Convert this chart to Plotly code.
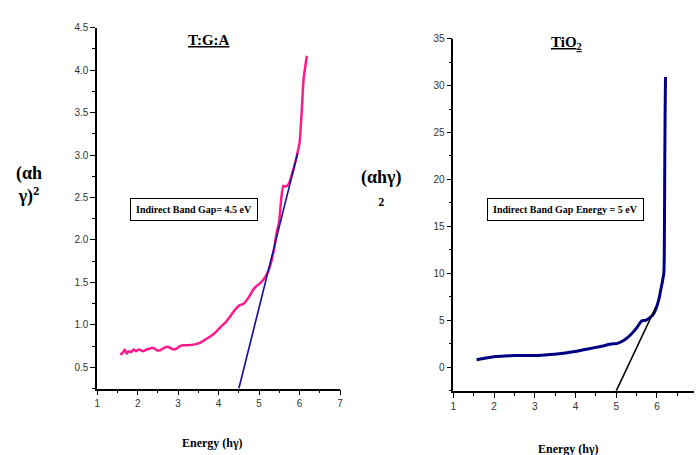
import plotly.graph_objects as go

# T:G:A absorption curve, (alpha h nu)^2 vs photon energy
tga_energy = [1.57, 1.63, 1.68, 1.73, 1.78, 1.84, 1.90, 1.96, 2.02, 2.08, 2.14, 2.22, 2.30, 2.35,
              2.42, 2.48, 2.55, 2.62, 2.70, 2.76, 2.83, 2.90, 2.96, 3.04, 3.12, 3.25, 3.41,
              3.55, 3.65, 3.78, 3.90, 4.06, 4.17, 4.27, 4.39, 4.51, 4.62, 4.75, 4.85, 4.92,
              5.00, 5.12, 5.24, 5.37, 5.43, 5.49, 5.55, 5.60, 5.65, 5.73, 5.84, 5.94, 6.00,
              6.05, 6.10, 6.18]
tga_value = [0.65, 0.67, 0.71, 0.66, 0.69, 0.68, 0.71, 0.69, 0.71, 0.70, 0.69, 0.71, 0.72, 0.73,
             0.72, 0.70, 0.70, 0.72, 0.74, 0.74, 0.72, 0.71, 0.72, 0.75, 0.76, 0.76, 0.77,
             0.79, 0.82, 0.86, 0.90, 0.98, 1.03, 1.09, 1.17, 1.23, 1.25, 1.33, 1.41, 1.45,
             1.48, 1.54, 1.65, 1.89, 2.08, 2.20, 2.50, 2.64, 2.63, 2.66, 2.82, 3.01, 3.15,
             3.50, 3.90, 4.17]
tga_fit_x = [4.50, 5.95]
tga_fit_y = [0.25, 3.02]

# TiO2 absorption curve
tio2_energy = [1.57, 1.80, 2.03, 2.25, 2.52, 2.75, 3.00, 3.25, 3.49, 3.75, 3.98, 4.20, 4.47,
               4.70, 4.87, 5.03, 5.20, 5.36, 5.52, 5.58, 5.62, 5.72, 5.80, 5.89, 5.97, 6.05,
               6.10, 6.13, 6.17, 6.18, 6.19, 6.20, 6.21]
tio2_value = [0.81, 1.00, 1.16, 1.20, 1.26, 1.26, 1.26, 1.32, 1.40, 1.52, 1.68, 1.88, 2.10,
              2.30, 2.49, 2.55, 2.91, 3.50, 4.31, 4.70, 4.94, 5.00, 5.20, 5.53, 6.17, 7.28,
              8.40, 9.03, 10.08, 12.0, 20.0, 27.0, 30.9]
tio2_fit_x = [5.00, 5.97]
tio2_fit_y = [-2.5, 6.4]

pink = "#ff1a8c"
navy = "#000080"
line_blue = "#1010a0"

fig = go.Figure()
fig.add_trace(go.Scatter(x=tga_energy, y=tga_value, mode="lines",
                         line=dict(color=pink, width=2.5, shape="spline", smoothing=0.6),
                         xaxis="x", yaxis="y", showlegend=False))
fig.add_trace(go.Scatter(x=tga_fit_x, y=tga_fit_y, mode="lines",
                         line=dict(color=line_blue, width=1.6),
                         xaxis="x", yaxis="y", showlegend=False))
fig.add_trace(go.Scatter(x=tio2_energy, y=tio2_value, mode="lines",
                         line=dict(color=navy, width=3, shape="spline", smoothing=0.4),
                         xaxis="x2", yaxis="y2", showlegend=False))
fig.add_trace(go.Scatter(x=tio2_fit_x, y=tio2_fit_y, mode="lines",
                         line=dict(color="black", width=1.6),
                         xaxis="x2", yaxis="y2", showlegend=False))

tick_font = dict(family="Liberation Sans Narrow, Arial Narrow, Liberation Sans, sans-serif",
                 size=10, color="#333333")


def axis_style(rng, dtick, minor_dtick, domain, anchor):
    return dict(range=rng, domain=domain, anchor=anchor, dtick=dtick, tick0=0,
                showline=True, linecolor="black", linewidth=1.5,
                ticks="outside", ticklen=5, tickwidth=1, tickcolor="black",
                minor=dict(dtick=minor_dtick, ticks="outside", ticklen=3,
                           tickcolor="black", tickwidth=1),
                showgrid=False, zeroline=False, tickfont=tick_font)


serif = "Liberation Serif, Times New Roman, serif"
W, H = 697, 455


def label(text, px, py, size, **extra):
    """Text placed by pixel position (px from left, py from top), centred."""
    d = dict(text=text, x=px / W, y=(H - py) / H, xref="paper", yref="paper",
             xanchor="center", yanchor="middle", showarrow=False, align="center")
    font = dict(family=serif, size=size, color="black")
    font.update(extra.pop("font_extra", {}))
    d["font"] = font
    d.update(extra)
    return d


box = dict(bordercolor="black", borderwidth=1, borderpad=5, bgcolor="white")

fig.update_layout(
    width=W, height=H,
    margin=dict(l=0, r=0, t=0, b=0),
    paper_bgcolor="white", plot_bgcolor="white",
    xaxis=axis_style([1, 7], 1, 0.5, [0.1363, 0.4878], "y"),
    yaxis=dict(axis_style([0.25, 4.5], 0.5, 0.25, [0.148, 0.9516], "x"), tickformat=".1f"),
    xaxis2=axis_style([1, 6.91], 1, 0.5, [0.6518, 1.0], "y2"),
    yaxis2=axis_style([-2.5, 35], 5, 2.5, [0.1429, 0.9275], "x2"),
    annotations=[
        label("<b>T:G:A</b>", 208, 34, 15, font_extra=dict(lineposition="under")),
        label("<b>TiO<sub>2</sub></b>", 568, 37, 15, font_extra=dict(lineposition="under")),
        label("<b>(αh<br>γ)<sup>2</sup></b>", 26, 181, 18),
        label("<b>(αhγ)<br><span style='font-size:12px'>2</span></b>", 381, 184, 18),
        label("<b>Indirect Band Gap= 4.5 eV</b>", 193, 206, 10, **box),
        label("<b>Indirect Band Gap Energy = 5 eV</b>", 567, 206, 10, **box),
        label("<b>Energy (hγ)</b>", 211, 443, 12),
        label("<b>Energy (hγ)</b>", 570, 449, 12),
    ],
)

fig.write_html("out.html")
